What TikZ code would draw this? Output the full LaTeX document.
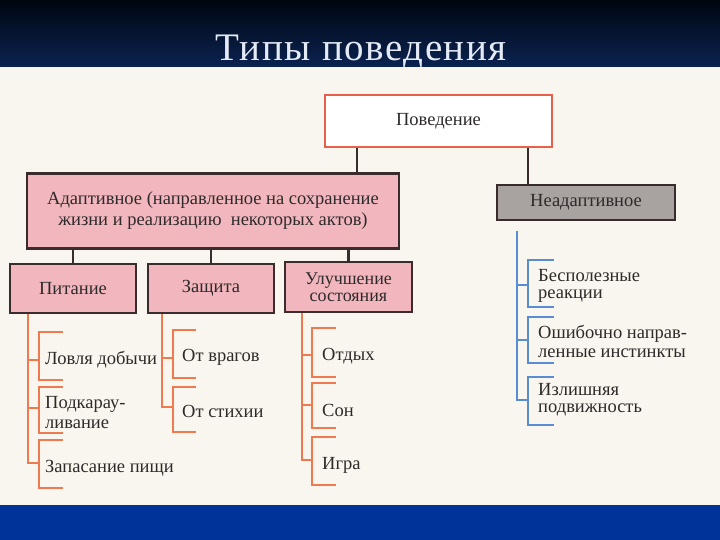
\documentclass[tikz,border=0pt]{standalone}
\usepackage{fontspec}
\setmainfont{Liberation Serif}
\definecolor{paper}{HTML}{F8F6EE}
\definecolor{navytop}{HTML}{000610}
\definecolor{navybot}{HTML}{0B2352}
\definecolor{bandblue}{HTML}{003399}
\definecolor{boxpink}{HTML}{F2B6BE}
\definecolor{boxdark}{HTML}{3A2C2C}
\definecolor{redb}{HTML}{E8604C}
\definecolor{greybox}{HTML}{A8A2A0}
\definecolor{orangel}{HTML}{F07A50}
\definecolor{bluel}{HTML}{5A8CD2}
\definecolor{txt}{HTML}{2E2A2A}
\definecolor{titlec}{HTML}{E4EAF6}
\begin{document}
\begin{tikzpicture}[x=1pt,y=-1pt,
  box/.style={draw=boxdark, line width=2.2pt, fill=boxpink, text=txt,
    font=\fontsize{18.5}{21}\selectfont, inner sep=0pt, align=center},
  conn/.style={draw=boxdark, line width=2.4pt},
  oline/.style={draw=orangel, line width=2.8pt},
  bline/.style={draw=bluel, line width=2.8pt},
  item/.style={anchor=west, text=txt, font=\fontsize{18.5}{19}\selectfont,
    inner sep=0pt, align=left},
  titlestyle/.style={text=titlec, font=\fontsize{39}{42}\selectfont\addfontfeature{LetterSpace=4}, inner sep=0pt}]
\useasboundingbox (0,0) rectangle (720,540);
\shade[top color=navytop, bottom color=navybot] (0,0) rectangle (720,67);
\fill[paper] (0,67) rectangle (720,505);
\fill[bandblue] (0,505) rectangle (720,540);
\node[titlestyle, anchor=base] (title) at (361,61) {Типы поведения};

% boxes
\node[box, draw=redb, fill=white, minimum width=227pt, minimum height=52pt] (beh) at (438.5,121) {Поведение};
\node[box, minimum width=372pt, minimum height=75pt] (adap) at (213,211)
  {Адаптивное (направленное на сохранение\\жизни и реализацию \ некоторых актов)};
\node[box, fill=greybox, minimum width=178pt, minimum height=35pt] (nead) at (586,202.5) {Неадаптивное};
\node[box, minimum width=126pt, minimum height=49pt] (pit) at (73,288.5) {Питание};
\node[box, minimum width=126pt, minimum height=49pt] (zas) at (211,288.5) {Защита};
\node[box, minimum width=127pt, minimum height=50pt, font=\fontsize{18}{16.5}\selectfont] (ulu) at (348.5,287) {Улучшение\\состояния};

% connectors between boxes
\coordinate (bl) at ([xshift=-81.5pt]beh.south);
\coordinate (br) at ([xshift=89.5pt]beh.south);
\draw[conn] (bl) -- (bl |- adap.north);
\draw[conn] (br) -- (br |- nead.north);
\draw[conn] (pit.north) -- (pit.north |- adap.south);
\draw[conn] (zas.north) -- (zas.north |- adap.south);
\draw[conn] (ulu.north) -- (ulu.north |- adap.south);

% items
\node[item] (i1) at (45,360) {Ловля добычи};
\node[item, font=\fontsize{18.5}{20}\selectfont] (i2) at (45,413) {Подкарау-\\ливание};
\node[item] (i3) at (45,468) {Запасание пищи};
\node[item] (z1) at (182,357) {От врагов};
\node[item] (z2) at (182,411) {От стихии};
\node[item] (u1) at (322,356) {Отдых};
\node[item] (u2) at (322,410) {Сон};
\node[item] (u3) at (322,465) {Игра};
\node[item, font=\fontsize{18.5}{17}\selectfont] (n1) at (538,286) {Бесполезные\\реакции};
\node[item, font=\fontsize{18.5}{19}\selectfont] (n2) at (538,341) {Ошибочно направ-\\ленные инстинкты};
\node[item, font=\fontsize{18.5}{17}\selectfont] (n3) at (538,400) {Излишняя\\подвижность};

% bracket macro: style, main x, bracket x, tick end x, top, bottom, mid
\newcommand{\brk}[7]{%
  \draw[#1, line cap=rect] (#4,#5) -- (#3,#5) -- (#3,#6) -- (#4,#6);
  \draw[#1] (#2,#7) -- (#3,#7);}

% Pitanie column
\coordinate (pm) at (28,0);
\draw[oline] (pm |- pit.south) |- (39,463);
\brk{oline}{28}{39}{62}{332}{380}{360}
\brk{oline}{28}{39}{62}{387}{433}{408}
\brk{oline}{28}{39}{62}{440}{488}{463}

% Zashita column
\coordinate (zm) at (162,0);
\draw[oline] (zm |- zas.south) |- (173,407);
\brk{oline}{162}{173}{195}{330}{378}{358}
\brk{oline}{162}{173}{195}{387}{432}{407}

% Uluchshenie column
\coordinate (um) at (302,0);
\draw[oline] (um |- ulu.south) |- (312,460);
\brk{oline}{302}{312}{335}{328}{377}{355}
\brk{oline}{302}{312}{335}{383}{428}{405}
\brk{oline}{302}{312}{335}{437}{485}{460}

% Neadaptive column
\coordinate (nm) at (517,0);
\draw[bline] (nm |- nead.south) ++(0,10) -- (517,400) -- (528,400);
\brk{bline}{517}{528}{553}{260}{307}{285}
\brk{bline}{517}{528}{553}{317}{363}{340}
\brk{bline}{517}{528}{553}{377}{425}{400}
\end{tikzpicture}
\end{document}
